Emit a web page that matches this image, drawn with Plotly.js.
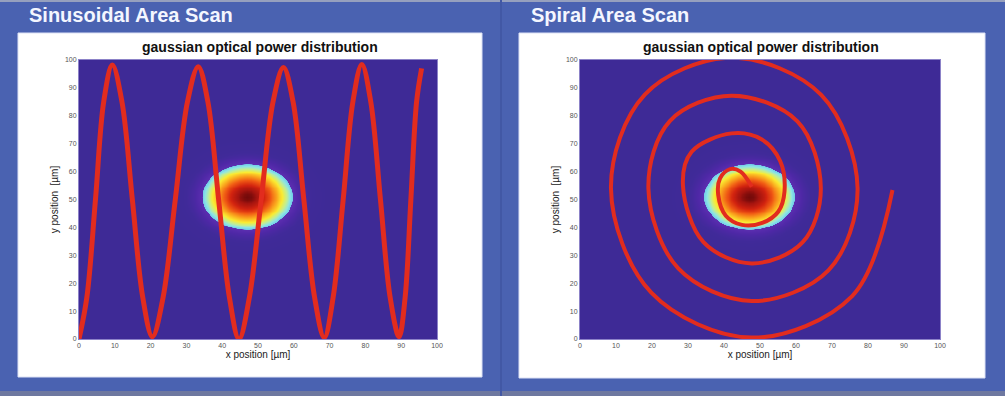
<!DOCTYPE html>
<html>
<head>
<meta charset="utf-8">
<script src="https://cdn.plot.ly/plotly-3.0.1.min.js"></script>
<style>
html,body{margin:0;padding:0;background:#4a62b1;}
#chart{width:1005px;height:396px;}
</style>
</head>
<body>
<div id="chart"></div>
<script>
// ---- values ----
const panelTitles = ["Sinusoidal Area Scan", "Spiral Area Scan"];
const plotTitle = "gaussian optical power distribution";
const xAxisTitle = "x position [µm]";
const yAxisTitle = "y position  [µm]";
const tickVals = [0, 10, 20, 30, 40, 50, 60, 70, 80, 90, 100];

// sinusoidal scan path (x, y in µm)
const sinX = [0, 2.2, 4.6, 6.9, 9.3, 12.0, 14.9, 17.8, 20.5, 23.5, 26.9, 30.3, 33.3, 36.0, 39.0, 42.0, 44.7,
  47.6, 50.9, 54.2, 57.1, 59.8, 62.8, 65.8, 68.5, 71.0, 73.8, 76.5, 79.0, 81.5, 84.2, 86.9, 89.4, 91.1, 92.7, 94.3, 95.7];
const sinY = [0, 15, 50, 85, 98.2, 85, 50, 15, 0.8, 15, 50, 85, 97.6, 85, 50, 15, 0,
  15, 50, 85, 97.3, 85, 50, 15, 0.5, 15, 50, 85, 98.4, 85, 50, 15, 0.8, 15, 50, 85, 97.0];

// spiral scan path (x, y in µm)
const spiralX = [47.7, 44.6, 41.7, 38.9, 38.4, 40.5, 45.0, 50.6, 55.1, 56.8, 55.6, 50.4,
  42.1, 31.0, 28.6, 34.3, 47.7, 61.8, 66.9, 60.4,
  42.1, 25.0, 19.0, 27.3, 47.7, 69.0, 77.1, 67.0,
  42.1, 18.0, 8.6, 19.8, 47.7, 75.6, 86.8];
const spiralY = [54.6, 60.0, 60.9, 57.6, 51.6, 44.2, 40.9, 41.6, 45.7, 52.8, 63.8, 71.6,
  73.7, 67.1, 55.0, 34.7, 27.1, 34.6, 54.0, 78.0,
  87.2, 78.2, 54.0, 25.3, 13.6, 24.6, 54.0, 87.5,
  100.8, 87.6, 54.0, 16.6, 0.5, 15.4, 53.4];

// gaussian beam (centre and width in µm)
const beamCenterX = 47;
const beamCenterY = 51;
const beamSigmaX = 7.0;
const beamSigmaY = 6.5;
const gridStep = 1;

// ---- build the power map ----
const gridX = [];
for (let v = 0; v <= 100; v += gridStep) gridX.push(v);
const gridY = gridX.slice();
const powerZ = gridY.map(y => gridX.map(x =>
  Math.exp(-((x - beamCenterX) ** 2) / (2 * beamSigmaX ** 2) - ((y - beamCenterY) ** 2) / (2 * beamSigmaY ** 2))));

const powerScale = [
  [0, 'rgb(62,42,150)'],
  [0.05, 'rgb(64,42,153)'],
  [0.12, 'rgb(78,40,166)'],
  [0.195, 'rgb(92,46,176)'],
  [0.2, 'rgb(115,205,232)'],
  [0.24, 'rgb(140,228,230)'],
  [0.3, 'rgb(195,238,145)'],
  [0.38, 'rgb(250,235,50)'],
  [0.5, 'rgb(250,170,30)'],
  [0.65, 'rgb(240,90,20)'],
  [0.8, 'rgb(210,35,15)'],
  [0.93, 'rgb(165,20,15)'],
  [1, 'rgb(115,10,10)']
];

const lineColor = 'rgb(226,44,30)';
const fontFam = 'Liberation Sans, Arial, sans-serif';

const data = [
  {type: 'heatmap', x: gridX, y: gridY, z: powerZ, colorscale: powerScale, zmin: 0, zmax: 1,
   showscale: false, zsmooth: 'best', xaxis: 'x', yaxis: 'y', hoverinfo: 'skip'},
  {type: 'scatter', mode: 'lines', x: sinX, y: sinY, xaxis: 'x', yaxis: 'y',
   line: {color: lineColor, width: 5, shape: 'spline', smoothing: 1}, hoverinfo: 'skip'},
  {type: 'heatmap', x: gridX, y: gridY, z: powerZ, colorscale: powerScale, zmin: 0, zmax: 1,
   showscale: false, zsmooth: 'best', xaxis: 'x2', yaxis: 'y2', hoverinfo: 'skip'},
  {type: 'scatter', mode: 'lines', x: spiralX, y: spiralY, xaxis: 'x2', yaxis: 'y2',
   line: {color: lineColor, width: 4, shape: 'spline', smoothing: 1}, hoverinfo: 'skip'}
];

function xAx(domain, anchor) {
  return {domain: domain, anchor: anchor, range: [0, 100], tickvals: tickVals, ticks: '',
    showgrid: false, zeroline: false, showline: true, mirror: true, linecolor: 'rgb(140,130,200)', linewidth: 1,
    tickfont: {family: fontFam, size: 7, color: '#555'},
    title: {text: xAxisTitle, font: {family: fontFam, size: 10, color: '#222'}, standoff: 2}};
}
function yAx(domain, anchor) {
  return {domain: domain, anchor: anchor, range: [0, 100], tickvals: tickVals, ticks: '',
    showgrid: false, zeroline: false, showline: true, mirror: true, linecolor: 'rgb(140,130,200)', linewidth: 1,
    tickfont: {family: fontFam, size: 7, color: '#555'},
    title: {text: yAxisTitle, font: {family: fontFam, size: 10, color: '#222'}, standoff: 4}};
}

const W = 1005, H = 396;
const px = v => v / W, py = v => 1 - v / H;

const layout = {
  width: W, height: H, autosize: false,
  margin: {l: 0, r: 0, t: 0, b: 0, pad: 0},
  paper_bgcolor: 'rgb(74,98,177)', plot_bgcolor: 'rgb(62,42,150)',
  showlegend: false,
  xaxis: xAx([px(79), px(437)], 'y'),
  yaxis: yAx([py(339), py(60)], 'x'),
  xaxis2: xAx([px(580), px(940)], 'y2'),
  yaxis2: yAx([py(339), py(60)], 'x2'),
  shapes: [
    {type: 'rect', xref: 'paper', yref: 'paper', x0: 0, x1: 1, y0: py(2), y1: 1, fillcolor: 'rgb(150,160,190)', line: {width: 0}, layer: 'below'},
    {type: 'rect', xref: 'paper', yref: 'paper', x0: 0, x1: 1, y0: 0, y1: py(391), fillcolor: 'rgb(110,120,160)', line: {width: 0}, layer: 'below'},
    {type: 'rect', xref: 'paper', yref: 'paper', x0: px(500), x1: px(502), y0: 0, y1: 1, fillcolor: 'rgb(66,88,165)', line: {width: 0}, layer: 'below'},
    {type: 'rect', xref: 'paper', yref: 'paper', x0: px(18), x1: px(482), y0: py(377), y1: py(33), fillcolor: 'white', line: {width: 1, color: 'rgb(220,225,245)'}, layer: 'below'},
    {type: 'rect', xref: 'paper', yref: 'paper', x0: px(519), x1: px(985), y0: py(378), y1: py(33), fillcolor: 'white', line: {width: 1, color: 'rgb(220,225,245)'}, layer: 'below'}
  ],
  annotations: [
    {xref: 'paper', yref: 'paper', x: px(27), y: py(15), xanchor: 'left', yanchor: 'middle', showarrow: false,
     text: '<b>' + panelTitles[0] + '</b>', font: {family: fontFam, size: 20, color: '#f4f6ff'}},
    {xref: 'paper', yref: 'paper', x: px(529), y: py(15), xanchor: 'left', yanchor: 'middle', showarrow: false,
     text: '<b>' + panelTitles[1] + '</b>', font: {family: fontFam, size: 20, color: '#f4f6ff'}},
    {xref: 'paper', yref: 'paper', x: px(260), y: py(47), xanchor: 'center', yanchor: 'middle', showarrow: false,
     text: '<b>' + plotTitle + '</b>', font: {family: fontFam, size: 14, color: '#111'}},
    {xref: 'paper', yref: 'paper', x: px(761), y: py(47), xanchor: 'center', yanchor: 'middle', showarrow: false,
     text: '<b>' + plotTitle + '</b>', font: {family: fontFam, size: 14, color: '#111'}}
  ]
};

Plotly.newPlot('chart', data, layout, {staticPlot: true, displayModeBar: false});
</script>
</body>
</html>
